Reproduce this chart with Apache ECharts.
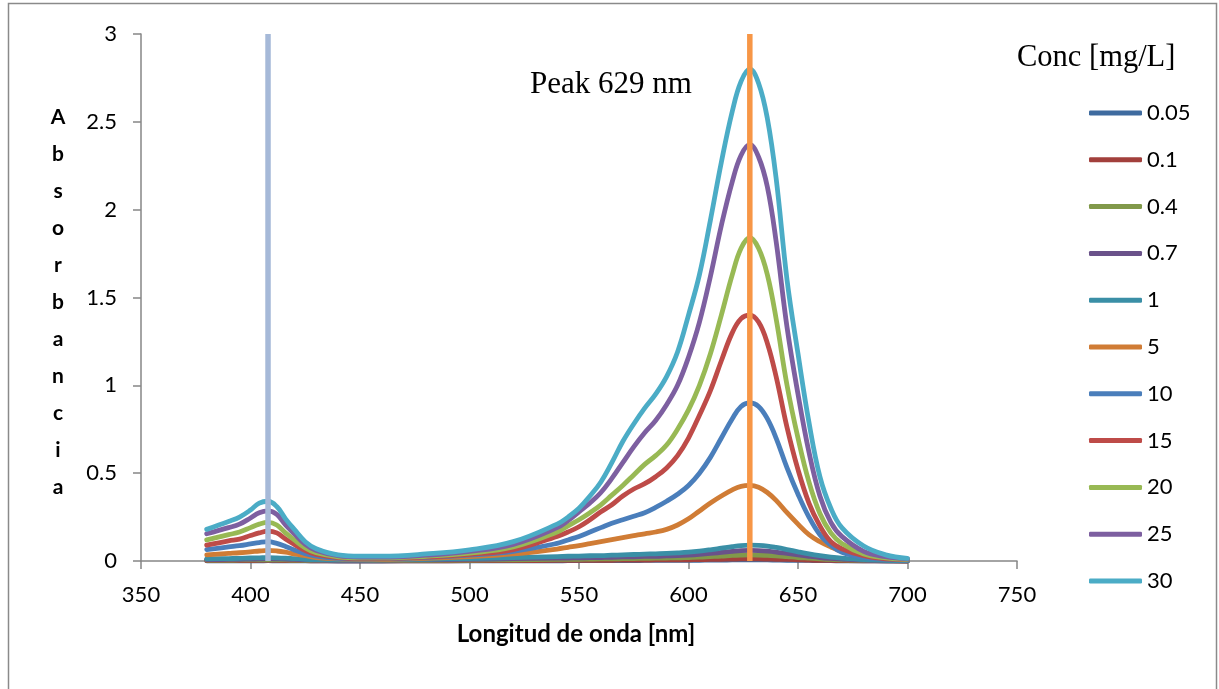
<!DOCTYPE html>
<html>
<head>
<meta charset="utf-8">
<script src="https://cdn.jsdelivr.net/npm/echarts@6/dist/echarts.min.js"></script>
<style>
html,body{margin:0;padding:0;background:#fff;}
#chart{width:1219px;height:689px;}
</style>
</head>
<body>
<div id="chart"></div>
<script>
// Wavelengths (nm)
const wavelengths = [380,390,395,400,404,408,412,416,420,425,430,440,450,460,480,500,520,540,545,550,555,560,565,570,575,580,585,590,595,600,605,610,615,620,624,628,632,636,640,645,650,655,660,665,670,680,690,700];

// Absorbance per concentration (mg/L)
const s005 = [0.001,0.001,0.001,0.001,0.001,0.002,0.001,0.001,0.001,0.001,0.001,0.0,0.0,0.0,0.001,0.001,0.001,0.001,0.002,0.002,0.002,0.002,0.002,0.002,0.002,0.003,0.003,0.003,0.003,0.004,0.004,0.005,0.005,0.006,0.006,0.006,0.006,0.006,0.005,0.004,0.004,0.003,0.002,0.002,0.001,0.001,0.0,0.0];
const s01  = [0.002,0.002,0.002,0.002,0.003,0.003,0.003,0.002,0.002,0.002,0.001,0.001,0.001,0.001,0.001,0.002,0.002,0.003,0.003,0.003,0.004,0.004,0.004,0.005,0.005,0.005,0.006,0.006,0.006,0.007,0.008,0.009,0.010,0.011,0.012,0.012,0.012,0.011,0.010,0.009,0.007,0.005,0.004,0.003,0.002,0.001,0.001,0.0];
const s04  = [0.005,0.005,0.006,0.006,0.007,0.007,0.007,0.006,0.005,0.004,0.003,0.002,0.002,0.003,0.004,0.005,0.007,0.009,0.010,0.010,0.011,0.012,0.012,0.013,0.014,0.015,0.016,0.017,0.018,0.020,0.022,0.025,0.028,0.032,0.034,0.035,0.034,0.032,0.030,0.025,0.020,0.016,0.012,0.009,0.006,0.003,0.002,0.001];
const s07  = [0.008,0.009,0.010,0.011,0.012,0.013,0.012,0.011,0.009,0.007,0.005,0.004,0.004,0.005,0.007,0.009,0.013,0.016,0.017,0.018,0.019,0.020,0.021,0.023,0.024,0.026,0.027,0.029,0.031,0.034,0.038,0.043,0.049,0.055,0.059,0.060,0.059,0.056,0.051,0.043,0.035,0.027,0.020,0.015,0.011,0.005,0.003,0.001];
const s1   = [0.012,0.014,0.015,0.017,0.018,0.019,0.018,0.016,0.013,0.010,0.008,0.006,0.006,0.007,0.010,0.014,0.020,0.025,0.027,0.028,0.030,0.031,0.033,0.035,0.037,0.039,0.041,0.043,0.046,0.050,0.056,0.064,0.073,0.082,0.088,0.090,0.089,0.085,0.077,0.065,0.052,0.040,0.030,0.022,0.016,0.008,0.004,0.002];
const s5   = [0.035,0.043,0.047,0.052,0.057,0.060,0.057,0.050,0.040,0.030,0.020,0.012,0.010,0.010,0.015,0.025,0.040,0.068,0.078,0.088,0.099,0.110,0.122,0.133,0.144,0.155,0.165,0.180,0.205,0.240,0.285,0.330,0.370,0.405,0.425,0.430,0.420,0.390,0.345,0.275,0.210,0.150,0.110,0.080,0.055,0.025,0.012,0.006];
const s10  = [0.065,0.080,0.087,0.097,0.105,0.110,0.100,0.083,0.063,0.042,0.028,0.015,0.012,0.013,0.020,0.033,0.055,0.100,0.120,0.140,0.165,0.190,0.215,0.235,0.255,0.275,0.305,0.340,0.380,0.430,0.500,0.590,0.700,0.810,0.880,0.900,0.880,0.810,0.700,0.530,0.380,0.250,0.150,0.090,0.050,0.020,0.009,0.005];
const s15  = [0.090,0.115,0.125,0.145,0.160,0.170,0.160,0.125,0.095,0.060,0.038,0.020,0.015,0.015,0.022,0.038,0.065,0.140,0.165,0.195,0.235,0.280,0.320,0.370,0.410,0.440,0.480,0.530,0.600,0.700,0.830,0.970,1.140,1.300,1.380,1.400,1.360,1.240,1.050,0.760,0.520,0.330,0.200,0.110,0.070,0.030,0.012,0.008];
const s20  = [0.120,0.150,0.165,0.190,0.210,0.220,0.205,0.160,0.120,0.075,0.047,0.024,0.018,0.018,0.027,0.045,0.080,0.165,0.200,0.235,0.275,0.320,0.375,0.430,0.490,0.550,0.600,0.660,0.750,0.860,1.000,1.180,1.400,1.630,1.780,1.840,1.780,1.630,1.380,1.000,0.700,0.450,0.270,0.160,0.100,0.040,0.018,0.010];
const s25  = [0.155,0.190,0.210,0.245,0.275,0.285,0.265,0.205,0.155,0.095,0.060,0.030,0.022,0.022,0.033,0.055,0.095,0.190,0.230,0.280,0.330,0.390,0.470,0.560,0.650,0.730,0.800,0.890,1.000,1.160,1.360,1.620,1.910,2.160,2.310,2.370,2.300,2.130,1.820,1.330,0.950,0.620,0.370,0.220,0.140,0.055,0.025,0.012];
const s30  = [0.180,0.225,0.250,0.290,0.330,0.340,0.310,0.240,0.180,0.110,0.070,0.035,0.028,0.028,0.040,0.063,0.110,0.210,0.250,0.300,0.370,0.450,0.560,0.680,0.780,0.870,0.950,1.050,1.190,1.400,1.630,1.940,2.270,2.560,2.730,2.800,2.720,2.520,2.180,1.600,1.180,0.790,0.480,0.300,0.190,0.085,0.035,0.015];

const seriesNames = ['0.05','0.1','0.4','0.7','1','5','10','15','20','25','30'];
const seriesValues = [s005,s01,s04,s07,s1,s5,s10,s15,s20,s25,s30];
const seriesColors = ['#3E6B9F','#A2403C','#81994A','#6A528A','#3A8FA6','#D07C35','#4A7EBB','#BE4B48','#98B954','#7D5FA0','#4BACC6'];

// Reference vertical lines (nm)
const refLines = [408, 628];
const refColors = ['#A6B9D8', '#F79646'];

const xTicks = {min:350, max:750, interval:50};
const yTicks = {min:0, max:3, interval:0.5};

const chart = echarts.init(document.getElementById('chart'));

const series = seriesNames.map((n,i)=>({
  name:n, type:'line', smooth:0.4, showSymbol:false, symbol:'none', clip:false,
  data: wavelengths.map((w,j)=>[w, seriesValues[i][j]]),
  lineStyle:{color:seriesColors[i], width:4.8, cap:'round', join:'round'},
  itemStyle:{color:seriesColors[i]},
  z: 2 + i*0.01, silent:true
}));
refLines.forEach((x,i)=>{
  series.push({
    name:'ref'+i, type:'line', symbol:'none', showSymbol:false, clip:false, silent:true,
    data:[[x,yTicks.min],[x,yTicks.max]],
    lineStyle:{color:refColors[i], width:5.5, cap:'butt'}, z:5
  });
});

const letters = 'Absorbancia'.split('').join('\n');

chart.setOption({
  animation:false,
  backgroundColor:'#fff',
  grid:{left:141, right:202, top:34, bottom:128, containLabel:false},
  xAxis:{
    type:'value', min:xTicks.min, max:xTicks.max, interval:xTicks.interval,
    axisLine:{show:true, lineStyle:{color:'#868686', width:1.5}},
    axisTick:{show:true, length:8, lineStyle:{color:'#868686', width:1.5}},
    splitLine:{show:false},
    axisLabel:{margin:23, color:'#000', fontFamily:'Lato', fontSize:22}
  },
  yAxis:{
    type:'value', min:yTicks.min, max:yTicks.max, interval:yTicks.interval,
    axisLine:{show:true, lineStyle:{color:'#868686', width:1.5}},
    axisTick:{show:true, length:8, lineStyle:{color:'#868686', width:1.5}},
    splitLine:{show:false},
    axisLabel:{margin:24, color:'#000', fontFamily:'Lato', fontSize:22}
  },
  legend:{
    data:seriesNames, orient:'vertical', left:1089, top:102, padding:0,
    itemWidth:53, itemHeight:5, itemGap:24.8, icon:'roundRect',
    textStyle:{fontFamily:'Lato', fontSize:22, color:'#000'},
    selectedMode:false
  },
  graphic:[
    {type:'rect', shape:{x:8.5, y:3.5, width:1208, height:700}, style:{fill:'none', stroke:'#8a8a8a', lineWidth:1.5}, silent:true, z:0},
    {type:'text', x:58, y:98.5, style:{text:letters, fontFamily:'Lato', fontWeight:'bold', fontSize:21, lineHeight:37, fill:'#000', textAlign:'center', textVerticalAlign:'top'}},
    {type:'text', x:576, y:634, style:{text:'Longitud de onda [nm]', fontFamily:'Lato', fontWeight:'bold', fontSize:24, fill:'#000', textAlign:'center', textVerticalAlign:'middle'}},
    {type:'text', x:530, y:85, style:{text:'Peak 629 nm', fontFamily:'Liberation Serif', fontSize:31, fill:'#000', textAlign:'left', textVerticalAlign:'middle'}},
    {type:'text', x:1017, y:58, style:{text:'Conc [mg/L]', fontFamily:'Liberation Serif', fontSize:30.5, fill:'#000', textAlign:'left', textVerticalAlign:'middle'}}
  ],
  series:series
});
</script>
</body>
</html>
